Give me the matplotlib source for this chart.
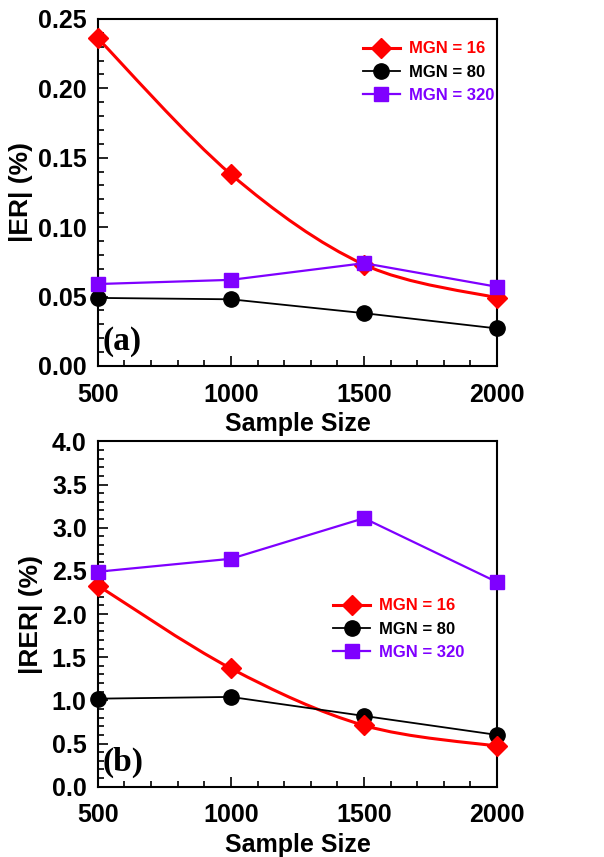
import numpy as np
import matplotlib
matplotlib.use('Agg')
import matplotlib.pyplot as plt
from matplotlib.path import Path
from matplotlib.patches import PathPatch
from matplotlib.lines import Line2D
from matplotlib.ticker import MultipleLocator, FormatStrFormatter

# ---------- Data ----------
sample_size = [500, 1000, 1500, 2000]

er_mgn16 = [0.236, 0.138, 0.073, 0.049]
er_mgn80 = [0.049, 0.048, 0.038, 0.027]
er_mgn320 = [0.059, 0.062, 0.074, 0.057]

rer_mgn16 = [2.33, 1.37, 0.71, 0.47]
rer_mgn80 = [1.02, 1.04, 0.82, 0.60]
rer_mgn320 = [2.49, 2.64, 3.11, 2.37]

labels = ['MGN = 16', 'MGN = 80', 'MGN = 320']

RED = '#ff0000'
BLACK = '#000000'
PURPLE = '#7f00ff'

plt.rcParams.update({
    'font.family': ['Liberation Sans', 'DejaVu Sans'],
    'font.weight': 'bold',
    'axes.linewidth': 1.5,
})


def smooth_path(x, y, tension=1.0 / 6):
    """Catmull-Rom style cubic Bezier path through the given points."""
    x = np.asarray(x, float)
    y = np.asarray(y, float)
    verts = [(x[0], y[0])]
    codes = [Path.MOVETO]
    n = len(x)
    for i in range(n - 1):
        p0 = (x[max(i - 1, 0)], y[max(i - 1, 0)])
        p1 = (x[i], y[i])
        p2 = (x[i + 1], y[i + 1])
        p3 = (x[min(i + 2, n - 1)], y[min(i + 2, n - 1)])
        c1 = (p1[0] + (p2[0] - p0[0]) * tension, p1[1] + (p2[1] - p0[1]) * tension)
        c2 = (p2[0] - (p3[0] - p1[0]) * tension, p2[1] - (p3[1] - p1[1]) * tension)
        verts += [c1, c2, p2]
        codes += [Path.CURVE4] * 3
    return Path(verts, codes)


def panel(ax, s16, s80, s320, ylim, ymajor, yminor, yfmt, ylabel, ylabel_x,
          tag, leg_loc):
    ax.add_patch(PathPatch(smooth_path(sample_size, s16), facecolor='none',
                           edgecolor=RED, lw=2.2, zorder=3))
    ax.plot(sample_size, s16, ls='none', marker='D', ms=10, color=RED,
            clip_on=False, zorder=4)
    ax.plot(sample_size, s80, '-', marker='o', ms=11, lw=1.3, color=BLACK,
            clip_on=False, zorder=3)
    ax.plot(sample_size, s320, '-', marker='s', ms=10, lw=1.6, color=PURPLE,
            clip_on=False, zorder=4)

    ax.set_xlim(500, 2000)
    ax.set_ylim(*ylim)
    ax.xaxis.set_major_locator(MultipleLocator(500))
    ax.xaxis.set_minor_locator(MultipleLocator(100))
    ax.yaxis.set_major_locator(MultipleLocator(ymajor))
    ax.yaxis.set_minor_locator(MultipleLocator(yminor))
    ax.yaxis.set_major_formatter(FormatStrFormatter(yfmt))
    ax.tick_params(which='both', direction='in', top=False, right=False,
                   labelsize=18, width=1.2)
    ax.tick_params(which='major', length=7)
    ax.tick_params(axis='x', which='major', pad=12)
    ax.tick_params(axis='y', which='major', pad=8)
    ax.tick_params(which='minor', length=4)
    for t in ax.get_xticklabels() + ax.get_yticklabels():
        t.set_fontweight('bold')
    ax.set_xlabel('Sample Size', fontsize=18, fontweight='bold', labelpad=4)
    ax.set_ylabel(ylabel, fontsize=19, fontweight='bold')
    ax.yaxis.set_label_coords(ylabel_x, 0.5)

    ax.text(0.012, 0.07, tag, transform=ax.transAxes, ha='left', va='center',
            fontsize=24, fontweight='bold', family='Liberation Serif')

    handles = [
        Line2D([], [], color=RED, lw=2.2, marker='D', ms=10),
        Line2D([], [], color=BLACK, lw=1.3, marker='o', ms=11),
        Line2D([], [], color=PURPLE, lw=1.6, marker='s', ms=10),
    ]
    leg = ax.legend(handles, labels, loc='upper left', bbox_to_anchor=leg_loc,
                    frameon=False, fontsize=12, handlelength=2.2,
                    handletextpad=0.55, labelspacing=0.5, borderaxespad=0,
                    borderpad=0)
    for txt, c in zip(leg.get_texts(), [RED, BLACK, PURPLE]):
        txt.set_color(c)
        txt.set_fontweight('bold')


fig = plt.figure(figsize=(6.04, 8.57), dpi=100)
ax1 = fig.add_axes([0.162, 0.573, 0.661, 0.405])
ax2 = fig.add_axes([0.162, 0.082, 0.661, 0.403])

panel(ax1, er_mgn16, er_mgn80, er_mgn320, (0, 0.25), 0.05, 0.01, '%.2f',
      '|ER| (%)', -0.163, '(a)', (0.664, 0.935))
panel(ax2, rer_mgn16, rer_mgn80, rer_mgn320, (0, 4.0), 0.5, 0.1, '%.1f',
      '|RER| (%)', -0.138, '(b)', (0.59, 0.545))

fig.savefig('out.png', dpi=100)
